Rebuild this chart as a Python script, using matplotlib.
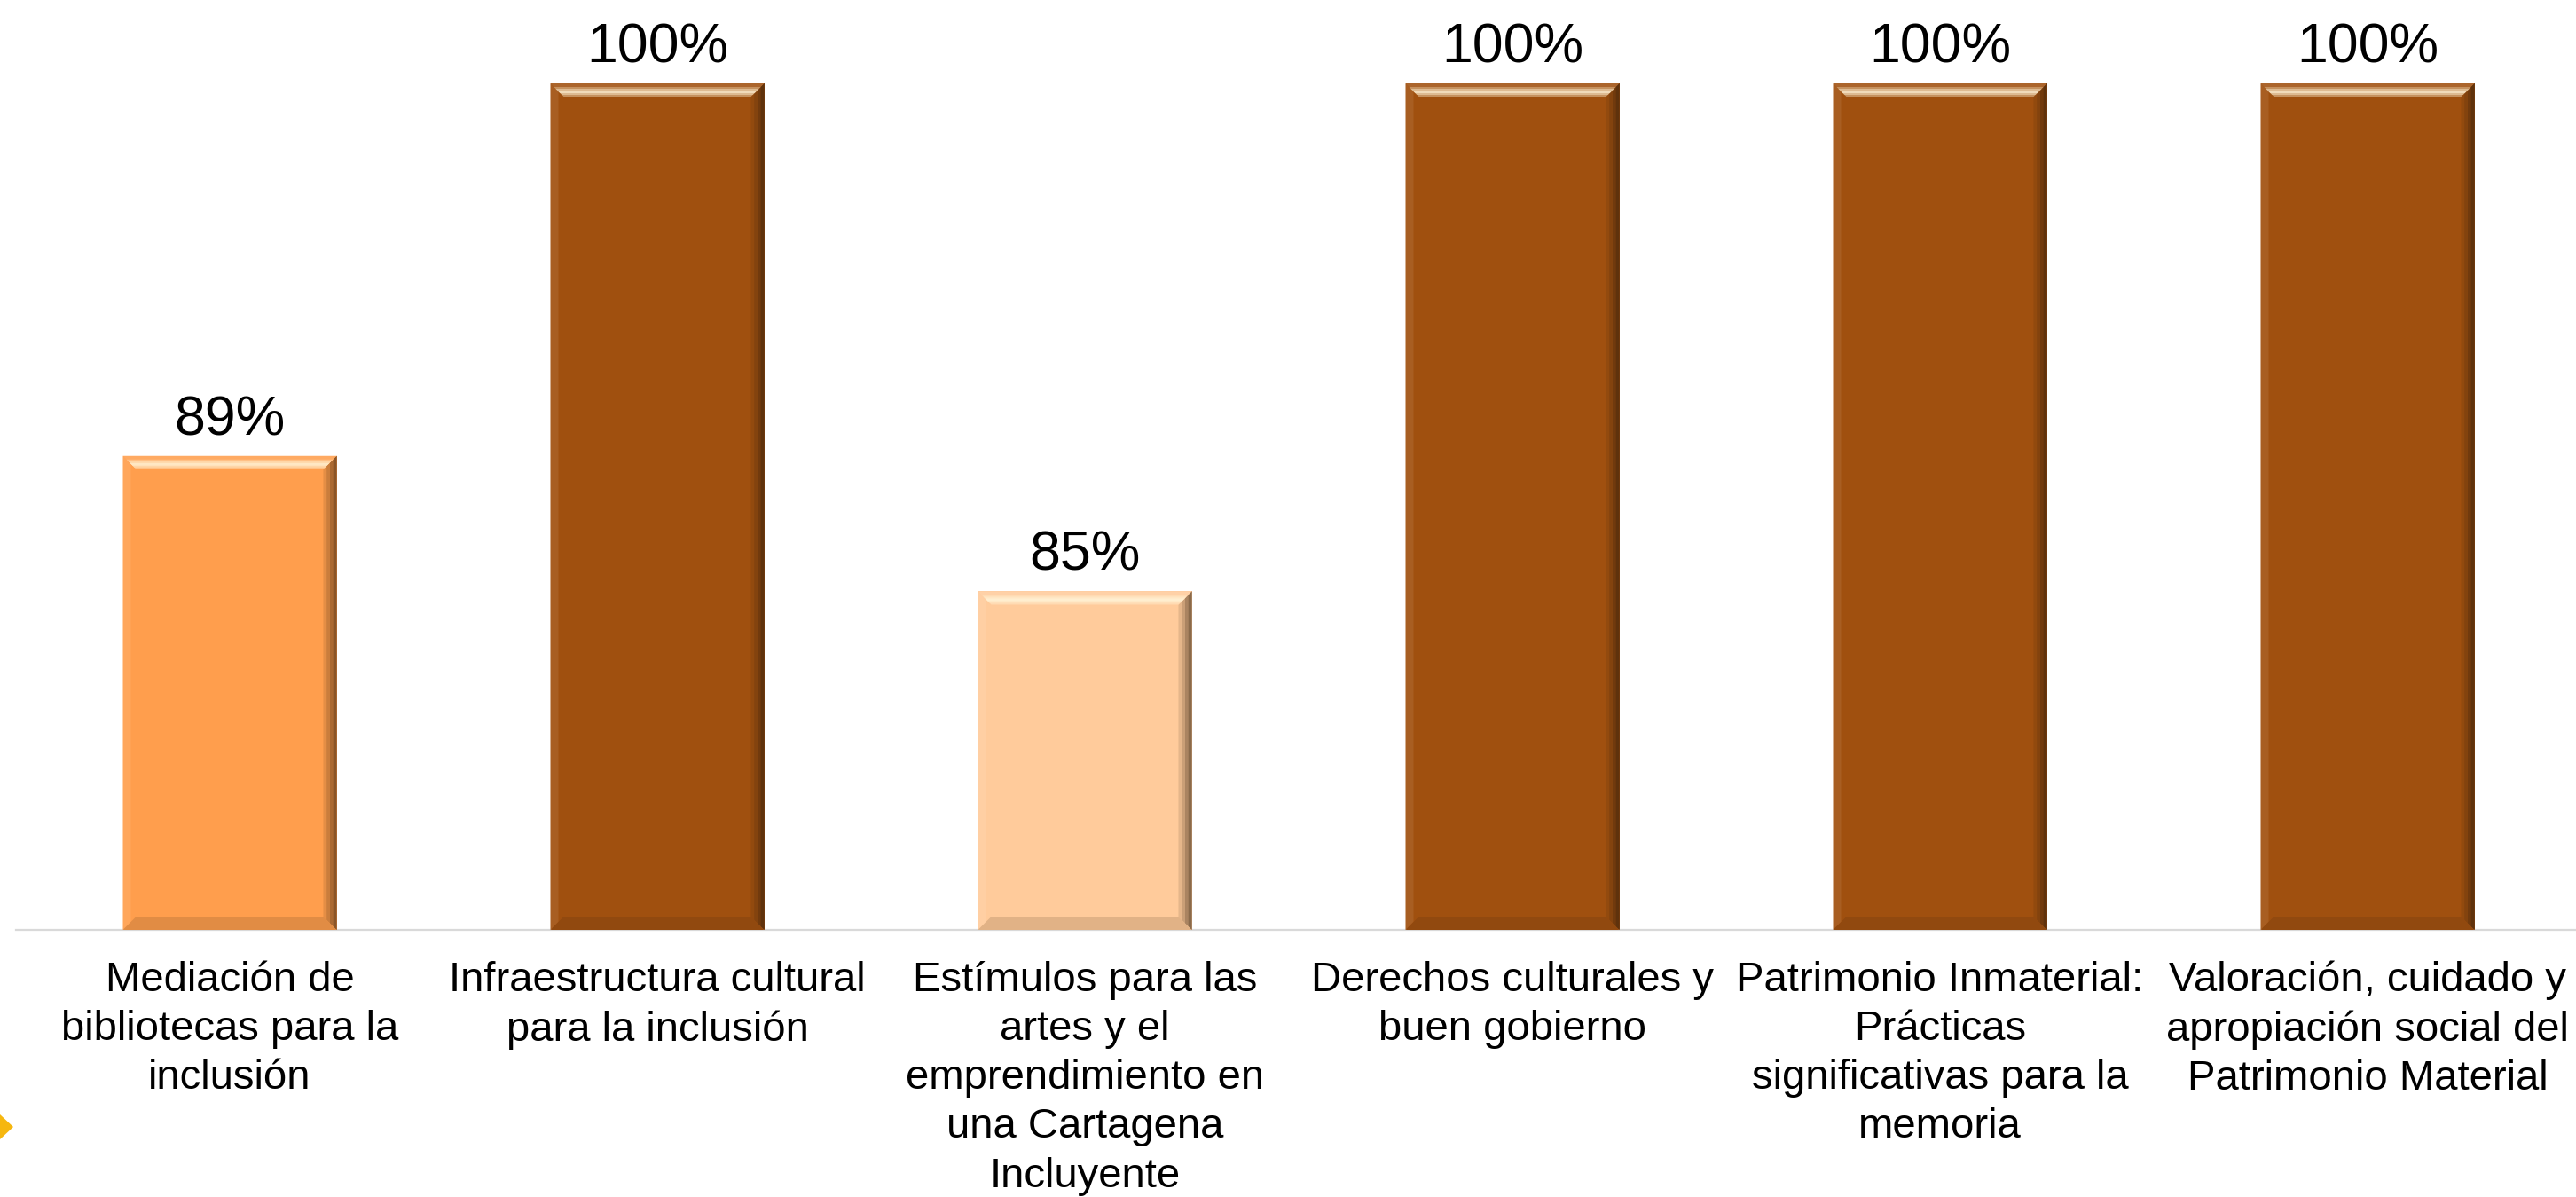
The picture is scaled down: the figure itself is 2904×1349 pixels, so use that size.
import matplotlib
matplotlib.use('Agg')
from matplotlib import pyplot as plt
from matplotlib.patches import Polygon
import numpy as np

categorias = ['Mediación de\nbibliotecas para la\ninclusión',
              'Infraestructura cultural\npara la inclusión',
              'Estímulos para las\nartes y el\nemprendimiento en\nuna Cartagena\nIncluyente',
              'Derechos culturales y\nbuen gobierno',
              'Patrimonio Inmaterial:\nPrácticas\nsignificativas para la\nmemoria',
              'Valoración, cuidado y\napropiación social del\nPatrimonio Material']
valores = [89, 100, 85, 100, 100, 100]
colores = ['#FF9E4D', '#A0500F', '#FFCB9B', '#A0500F', '#A0500F', '#A0500F']

plt.rcParams['font.family'] = ['Liberation Sans', 'DejaVu Sans']

W, H = 2904, 1349
fig = plt.figure(figsize=(W / 100, H / 100), dpi=100)
# axes placed in pixels: left 18, bottom axis line at y=1048, 100% at y=94
ax = fig.add_axes([18 / W, (H - 1048) / H, 2892 / W, 954 / H])
ax.set_xlim(-0.5, len(valores) - 0.5)
ax.set_ylim(75, 100)

x = np.arange(len(valores))
bars = ax.bar(x, valores, width=0.5, color=colores, zorder=2)

for sp in ['top', 'right', 'left']:
    ax.spines[sp].set_visible(False)
ax.spines['bottom'].set_color('#D9D9D9')
ax.spines['bottom'].set_linewidth(1.6)
ax.set_yticks([])
ax.set_xticks(x)
ax.set_xticklabels(categorias, fontsize=34, linespacing=1.33)
ax.tick_params(axis='x', length=0, pad=25)

for b, v in zip(bars, valores):
    ax.annotate(f'{v}%', (b.get_x() + b.get_width() / 2, b.get_height()),
                xytext=(0, 17), textcoords='offset points',
                ha='center', va='baseline', fontsize=45, annotation_clip=False)


def mezcla(c, o, t):
    c = np.array(matplotlib.colors.to_rgb(c))
    o = np.array(matplotlib.colors.to_rgb(o))
    return tuple(c * (1 - t) + o * t)


# bevel effect drawn in pixel space on top of each bar
fig.canvas.draw()
bev = 15
ymin = ax.get_ylim()[0]
for b, c in zip(bars, colores):
    x0, y0 = ax.transData.transform((b.get_x(), ymin))
    x1, y1 = ax.transData.transform((b.get_x() + b.get_width(), b.get_height()))
    # right side: darker
    for k, t in enumerate([0.12, 0.25, 0.4, 0.55]):
        w = bev * (4 - k) / 4
        fig.patches.append(Polygon([(x1 - w, y0 + w), (x1, y0), (x1, y1), (x1 - w, y1 - w)],
                                   closed=True, transform=None, color=mezcla(c, '#2a1a0a', t),
                                   lw=0, zorder=3))
    # left side: slightly lighter
    fig.patches.append(Polygon([(x0, y0), (x0 + bev * 0.6, y0 + bev * 0.6),
                                (x0 + bev * 0.6, y1 - bev * 0.6), (x0, y1)],
                               closed=True, transform=None, color=mezcla(c, '#ffffff', 0.08),
                               lw=0, zorder=3))
    # bottom: a bit darker
    fig.patches.append(Polygon([(x0, y0), (x1, y0), (x1 - bev, y0 + bev), (x0 + bev, y0 + bev)],
                               closed=True, transform=None, color=mezcla(c, '#3a2410', 0.15),
                               lw=0, zorder=3))
    # top bevel with highlight band
    fig.patches.append(Polygon([(x0, y1), (x1, y1), (x1 - bev, y1 - bev), (x0 + bev, y1 - bev)],
                               closed=True, transform=None, color=mezcla(c, '#ffffff', 0.12),
                               lw=0, zorder=3))
    for a, d, t in [(4, 15, 0.4), (6, 13, 0.65), (8, 11, 0.85)]:
        fig.patches.append(Polygon([(x0 + a, y1 - a), (x1 - a, y1 - a), (x1 - d, y1 - d), (x0 + d, y1 - d)],
                                   closed=True, transform=None, color=mezcla(c, '#FFF4D8', t),
                                   lw=0, zorder=3))

# yellow arrow fragment at bottom left
fig.patches.append(Polygon([(0, H - 1256), (15, H - 1270), (0, H - 1284)], closed=True,
                           transform=None, color='#F6B70F', lw=0))

fig.savefig('out.png', dpi=100, facecolor='white')
